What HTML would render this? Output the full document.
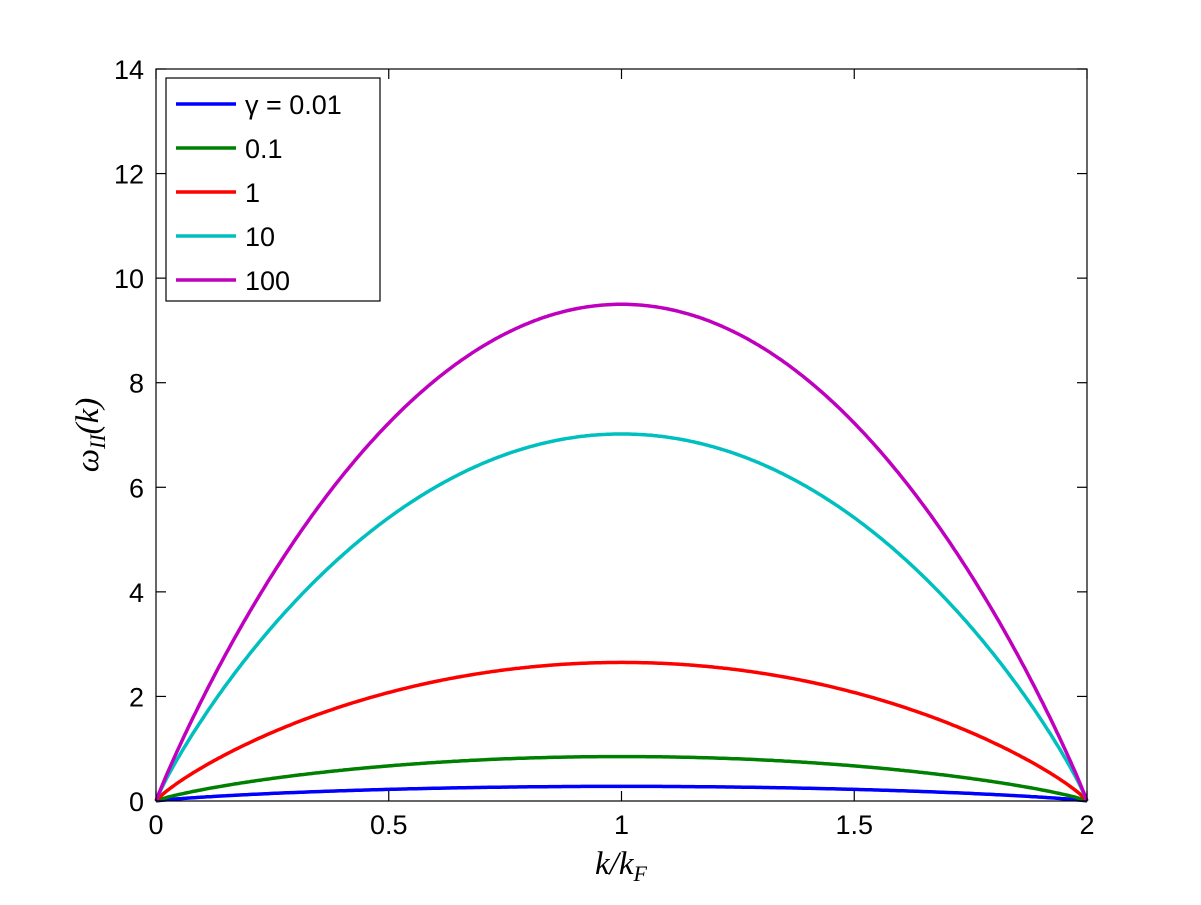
<!DOCTYPE html>
<html><head><meta charset="utf-8"><style>
body{margin:0;background:#fff;width:1201px;height:900px;overflow:hidden}
text{font-family:"Liberation Sans",sans-serif}
</style></head><body>
<svg id="s" width="1201" height="900" xmlns="http://www.w3.org/2000/svg">
<rect width="1201" height="900" fill="#fff"/>
<g id="curves" fill="none" stroke-width="3.5"></g>
<rect x="156" y="69" width="931" height="732" fill="none" stroke="#000" stroke-width="1.2"/>
<g id="ticks" stroke="#000" stroke-width="1.2"></g>
<g font-size="27" fill="#000" id="labels"></g>
<text x="621" y="874" font-size="33" text-anchor="middle" style="font-family:'Liberation Serif',serif;font-style:italic">k/k<tspan font-size="22" dy="7">F</tspan></text>
<text transform="translate(98,435) rotate(-90)" font-size="33" text-anchor="middle" style="font-family:'Liberation Serif',serif;font-style:italic">ω<tspan font-size="22" dy="7">II</tspan><tspan dy="-7">(k)</tspan></text>
<rect x="166" y="78" width="214" height="223" fill="#fff" stroke="#000" stroke-width="1.2"/>
<g stroke-width="3.5" font-size="27">
<line x1="176" y1="104" x2="236" y2="104" stroke="#0000ff"/><text x="245" y="114">γ = 0.01</text>
<line x1="176" y1="148" x2="236" y2="148" stroke="#008000"/><text x="245" y="158">0.1</text>
<line x1="176" y1="192" x2="236" y2="192" stroke="#ff0000"/><text x="245" y="202">1</text>
<line x1="176" y1="236" x2="236" y2="236" stroke="#00bfbf"/><text x="245" y="246">10</text>
<line x1="176" y1="280" x2="236" y2="280" stroke="#bf00bf"/><text x="245" y="290">100</text>
</g>
</svg>
<script>
var ns="http://www.w3.org/2000/svg";
function X(x){return 156+x*465.5}function Y(y){return 801-y*52.286}
var c=[["#0000ff",0.28,0.8],["#008000",0.85,0.82],["#ff0000",2.65,0.85],["#00bfbf",7.02,0.9],["#bf00bf",9.5,0.95]];
var g=document.getElementById("curves");
c.forEach(function(s){var d="";for(var i=0;i<=400;i++){var x=i/200;var v=s[1]*Math.pow(Math.max(0,x*(2-x)),s[2]);d+=(i?"L":"M")+X(x).toFixed(1)+","+Y(v).toFixed(1);}
var p=document.createElementNS(ns,"path");p.setAttribute("d",d);p.setAttribute("stroke",s[0]);g.appendChild(p);});
var t=document.getElementById("ticks"),l=document.getElementById("labels");
function add(tag,a,par,txt){var e=document.createElementNS(ns,tag);for(var k in a)e.setAttribute(k,a[k]);if(txt!==undefined)e.textContent=txt;par.appendChild(e);}
[0,0.5,1,1.5,2].forEach(function(v){var x=X(v);add("line",{x1:x,y1:801,x2:x,y2:791},t);add("line",{x1:x,y1:69,x2:x,y2:79},t);add("text",{x:x,y:834,"text-anchor":"middle"},l,String(v));});
for(var v=0;v<=14;v+=2){var y=Y(v);add("line",{x1:156,y1:y,x2:166,y2:y},t);add("line",{x1:1087,y1:y,x2:1077,y2:y},t);add("text",{x:144,y:y+10,"text-anchor":"end"},l,String(v));}
</script>
</body></html>
